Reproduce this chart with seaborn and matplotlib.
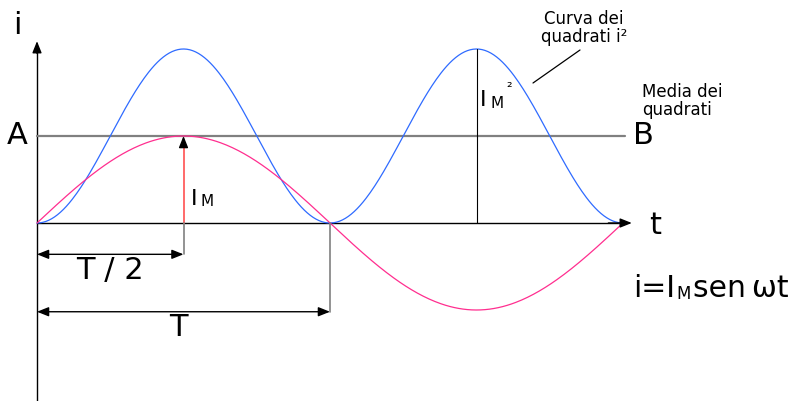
import numpy as np
import pandas as pd
import matplotlib
matplotlib.use("Agg")
import matplotlib.pyplot as plt
import seaborn as sns

# --- values ---
T = 1.0                 # period mark on the t axis (pixel 37 -> 330)
I_M = 1.0               # peak of the current i
I2_PEAK = 2.0           # peak of the squared curve as drawn
MEAN_SQ = I2_PEAK / 2   # "Media dei quadrati" line A-B
T_END = 2.0             # curves run from 0 to 2T
N_PTS = 400

t = np.linspace(0, T_END * T, N_PTS)
i_vals = I_M * np.sin(np.pi * t / T)
i_sq = I2_PEAK * np.sin(np.pi * t / T) ** 2
df = pd.DataFrame({"t": t, "i": i_vals, "i2": i_sq})

PINK = "#ff2e8f"
BLUE = "#2f6bff"
RED = "#ff5050"
GREY = "#808080"

sns.set_style("white")
plt.rcParams["font.family"] = ["DejaVu Sans"]
plt.rcParams["text.color"] = "black"

fig = plt.figure(figsize=(7.97, 4.01), dpi=100)
ax = fig.add_axes([0, 0, 1, 1])
ax.set_xlim(-37 / 293, 760 / 293)
ax.set_ylim(-(401 - 223) / 87, 223 / 87)
ax.axis("off")

arrow = dict(arrowstyle="-|>,head_length=0.5,head_width=0.2", color="black",
             lw=1, mutation_scale=14, shrinkA=0, shrinkB=0)
dim_arrow = dict(arrow, arrowstyle="<|-|>,head_length=0.5,head_width=0.2")

# axes with arrows
ax.plot([0, 0], [ax.get_ylim()[0], 2.0], color="black", lw=1)
ax.annotate("", xy=(0, 2.09), xytext=(0, 1.95), arrowprops=arrow)
ax.plot([0, 1.99], [0, 0], color="black", lw=1)
ax.annotate("", xy=(2.03, 0), xytext=(1.95, 0), arrowprops=arrow)

# mean of squares line A-B
ax.plot([0, 2.008], [MEAN_SQ, MEAN_SQ], color=GREY, lw=1.6)

# curves
sns.lineplot(data=df, x="t", y="i2", color=BLUE, lw=0.9, ax=ax)
sns.lineplot(data=df, x="t", y="i", color=PINK, lw=0.9, ax=ax)

# I_M arrow at T/2
ax.plot([T / 2, T / 2], [0, I_M - 0.08], color=RED, lw=1.2)
ax.annotate("", xy=(T / 2, I_M), xytext=(T / 2, I_M - 0.1), arrowprops=arrow)

# I_M^2 line at 3T/2
ax.plot([1.5 * T, 1.5 * T], [0, I2_PEAK], color="black", lw=0.8)

# dimension lines
ax.plot([T / 2, T / 2], [0, -0.36], color=GREY, lw=1.2)
ax.annotate("", xy=(0, -0.36), xytext=(T / 2, -0.36), arrowprops=dim_arrow)
ax.plot([T, T], [0, -1.02], color=GREY, lw=1.2)
ax.annotate("", xy=(0, -1.02), xytext=(T, -1.02), arrowprops=dim_arrow)

def px(x, y):
    return ((x - 37) / 293, (223 - y) / 87)

big = dict(fontsize=22, color="black", ha="center", va="center")
ax.text(*px(17, 26), "i", **big)
ax.text(*px(17, 136), "A", **big)
ax.text(*px(643, 136), "B", **big)
ax.text(*px(655, 226), "t", **big)
ax.text(*px(110, 270), "T / 2", **big)
ax.text(*px(178, 328), "T", **big)

# I_M label
ax.text(*px(191, 199), "I", fontsize=16, ha="left", va="center")
ax.text(*px(201, 202), "M", fontsize=11, ha="left", va="center")
# I_M^2 label
ax.text(*px(480, 100), "I", fontsize=16, ha="left", va="center")
ax.text(*px(491, 104), "M", fontsize=11, ha="left", va="center")
ax.text(*px(506, 88), "²", fontsize=10, ha="left", va="center")

# notes
ax.text(*px(584, 28), "Curva dei\nquadrati i²", fontsize=12, ha="center",
        va="center", linespacing=1.05)
ax.plot(*zip(px(580, 50), px(533, 83)), color="black", lw=0.9)
ax.text(*px(642, 101), "Media dei\nquadrati", fontsize=12, ha="left",
        va="center", linespacing=1.05)

# formula
f1 = ax.text(*px(633, 297), "i=I", fontsize=21.5, ha="left", va="baseline")
f2 = ax.annotate("M", xy=(1, 0), xycoords=f1, xytext=(1, 0),
                 textcoords="offset points", fontsize=12, va="bottom")
ax.annotate("sen\u2009ωt", xy=(1, 0), xycoords=f2, xytext=(1.5, 0),
            textcoords="offset points", fontsize=21.5, va="bottom")

fig.savefig("out.png", dpi=100)
